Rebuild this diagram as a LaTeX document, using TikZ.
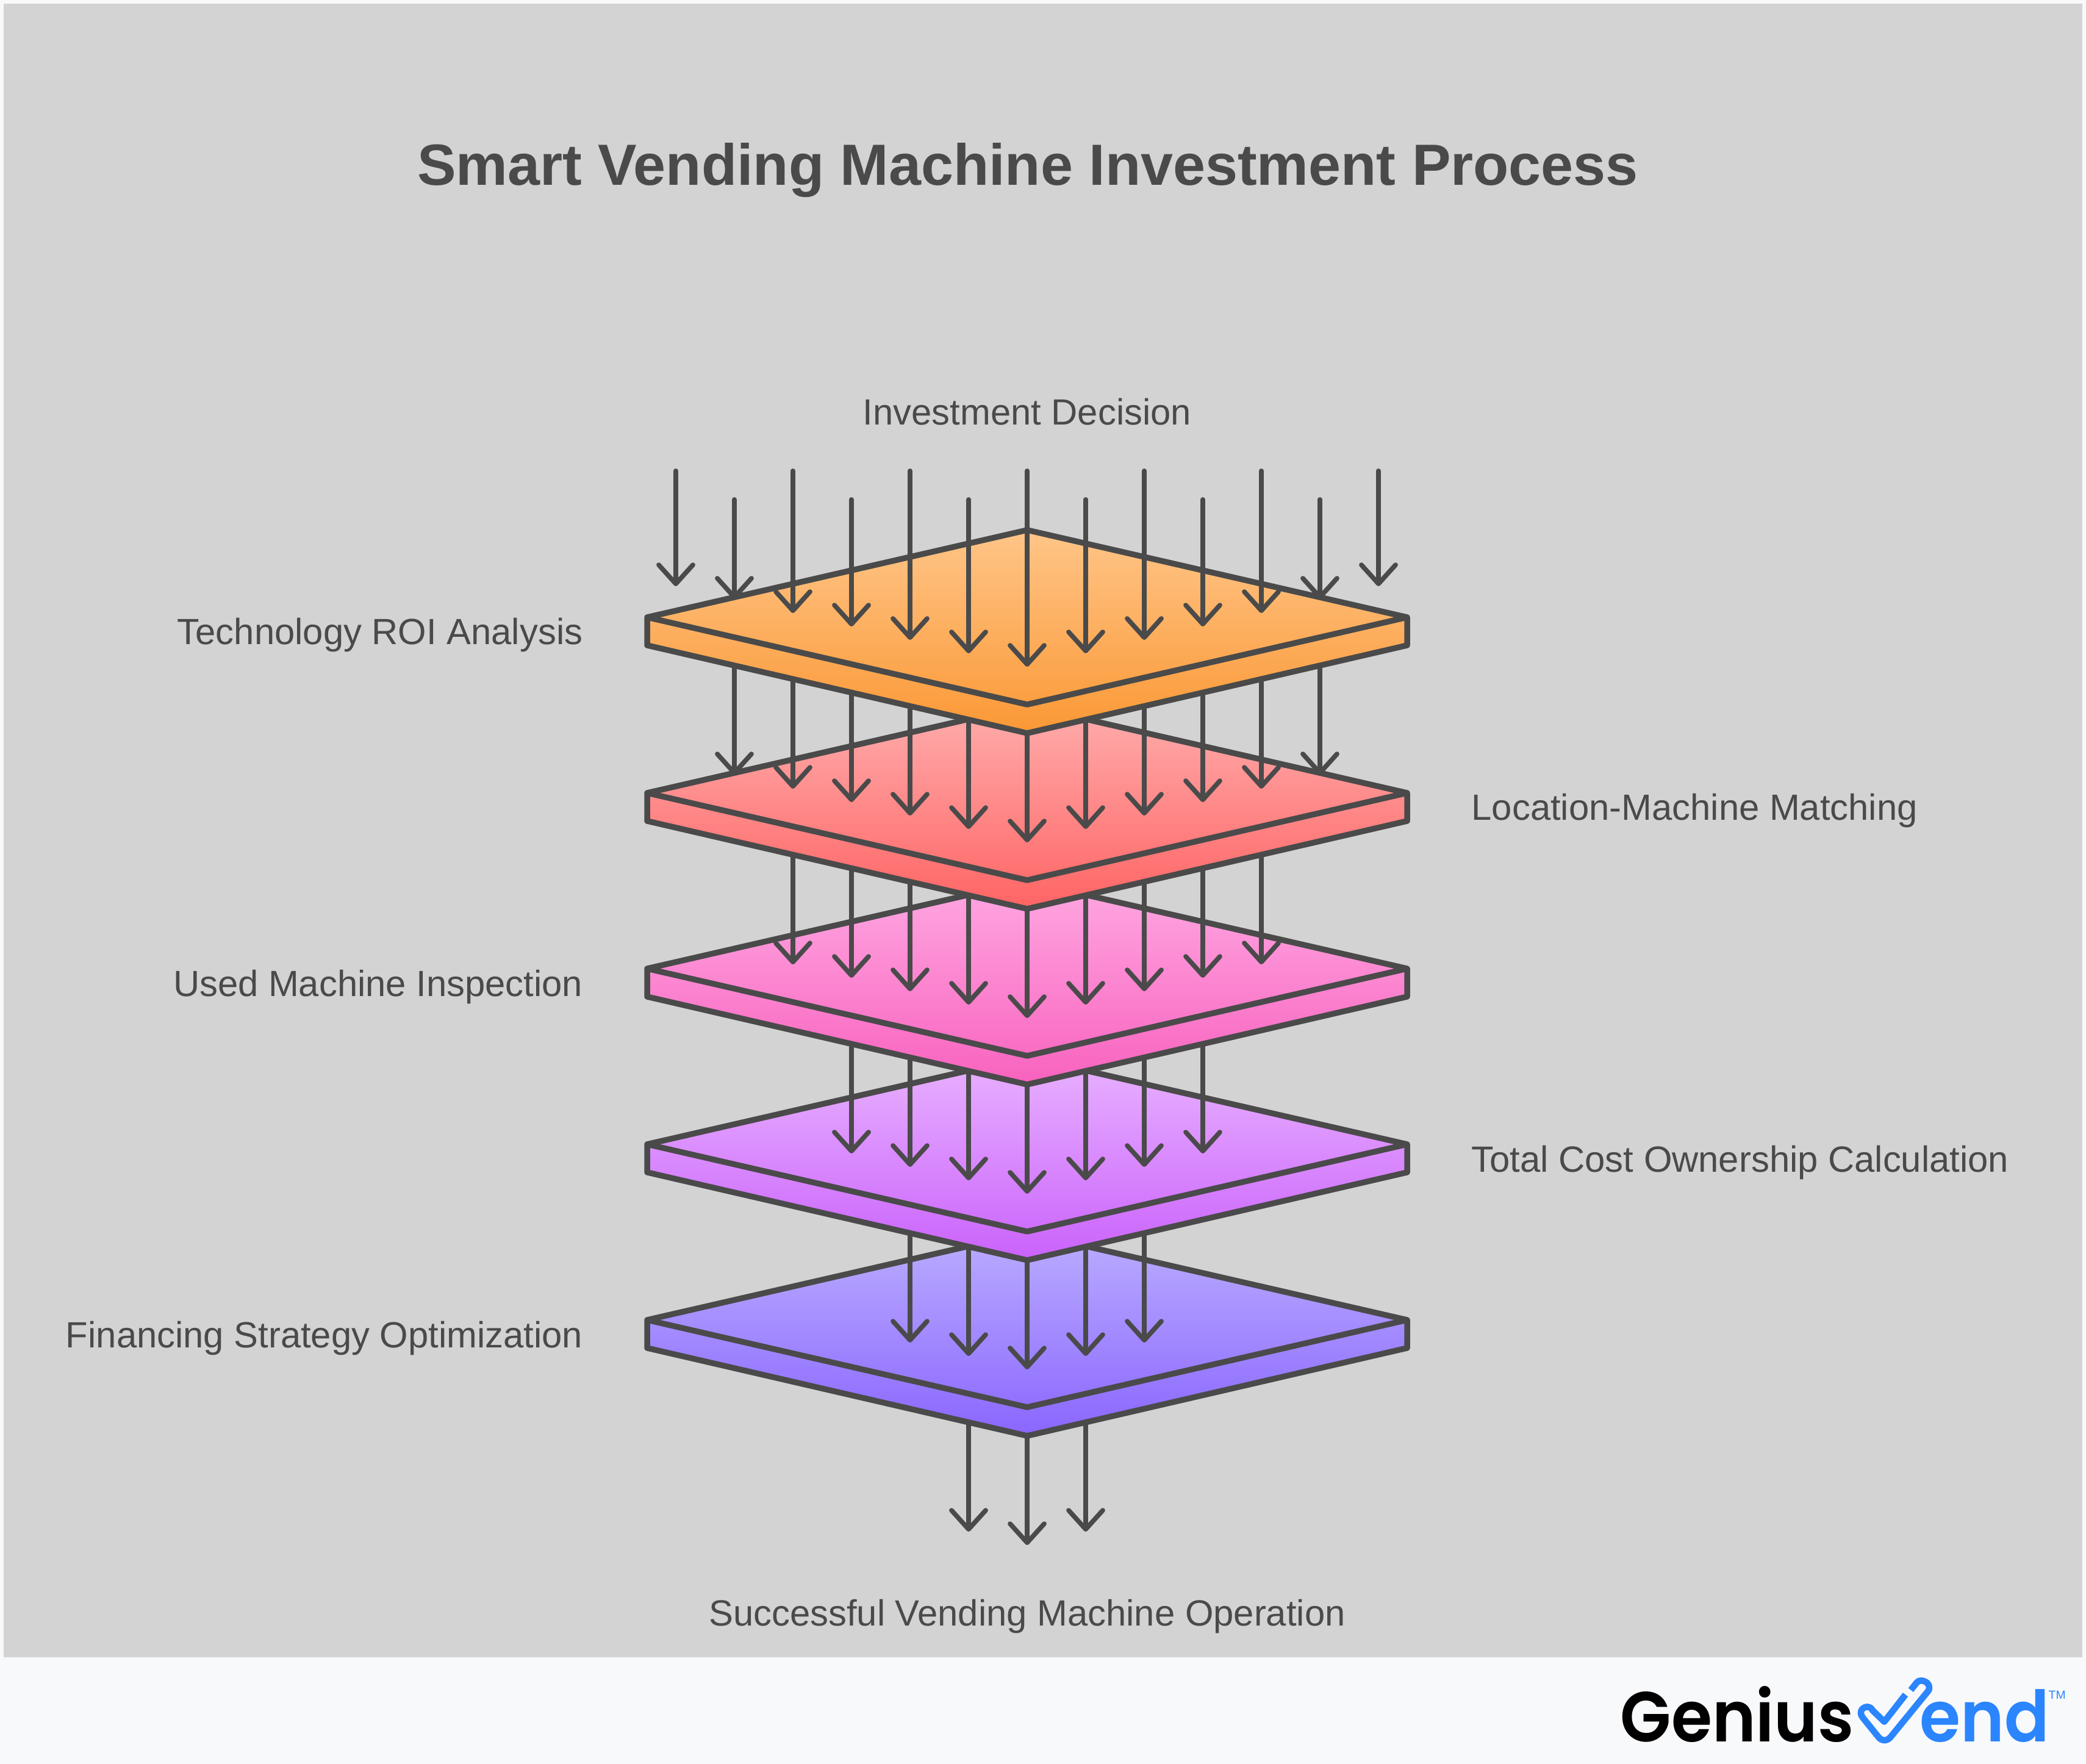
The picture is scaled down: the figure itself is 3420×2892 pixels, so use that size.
\documentclass[tikz,border=0pt]{standalone}
\usepackage{fontspec}
\setmainfont{Liberation Sans}
\newfontfamily\logofont[FakeStretch=0.935]{Poppins SemiBold}
\usetikzlibrary{arrows.meta}
\definecolor{pagebg}{HTML}{F8F9FA}
\definecolor{panelbg}{HTML}{D3D3D3}
\definecolor{ink}{HTML}{4A4A4A}
\definecolor{logoblue}{HTML}{2A85FF}
\definecolor{orangetop}{HTML}{FFC588}
\definecolor{orangebot}{HTML}{FB9835}
\definecolor{redtop}{HTML}{FFADAD}
\definecolor{redbot}{HTML}{FF6464}
\definecolor{pinktop}{HTML}{FFA8E2}
\definecolor{pinkbot}{HTML}{F862BE}
\definecolor{violettop}{HTML}{E8B2FF}
\definecolor{violetbot}{HTML}{CA62FC}
\definecolor{bluetop}{HTML}{BBADFF}
\definecolor{bluebot}{HTML}{8A66FF}
\begin{document}
\begin{tikzpicture}[
        x=0.01cm, y=-0.01cm,
        slab/.style={draw=ink, line width=2.7pt, line join=round},
        arrow/.style={-{Straight Barb[length=3.1mm,width=5.6mm,round]}, ink, line width=2.2pt, line cap=round},
        heading/.style={font=\fontsize{27.1pt}{34pt}\bfseries, text=ink, inner sep=0pt},
        label/.style={font=\fontsize{17pt}{20pt}\selectfont, text=ink, inner sep=0pt}
    ]
        % Page
        \useasboundingbox (0,0) rectangle (3420,2892);
        \fill[pagebg] (0,0) rectangle (3420,2892);
        \fill[panelbg] (6,6) rectangle (3414,2717);

        % Title and end labels
        \node[heading, anchor=base] (title) at (1685,304) {Smart Vending Machine Investment Process};
        \node[label, anchor=base] (decision) at (1684,697) {Investment Decision};
        \node[label, anchor=base] (operation) at (1684,2665) {Successful Vending Machine Operation};

        % Side labels
        \node[label, anchor=base east] (roi) at (956,1057) {Technology ROI Analysis};
        \node[label, anchor=base west] (matching) at (2412,1345) {Location-Machine Matching};
        \node[label, anchor=base east] (inspection) at (956,1633) {Used Machine Inspection};
        \node[label, anchor=base west] (ownership) at (2412,1921) {Total Cost Ownership Calculation};
        \node[label, anchor=base east] (financing) at (956,2209) {Financing Strategy Optimization};

        % Arrows below the last slab
        \foreach \i in {-1,0,1} {
            \pgfmathsetmacro{\tipy}{2533-22*abs(\i)}
            \coordinate (s5\i) at (1684+96*\i,\tipy-230);
            \coordinate (t5\i) at (1684+96*\i,\tipy);
            \draw[arrow] (s5\i) -- (t5\i);
        }

        % Slabs from bottom to top, each with the arrows that land on it
        \foreach \k/\n/\ctop/\cbot in {4/2/bluetop/bluebot, 3/3/violettop/violetbot, 2/4/pinktop/pinkbot, 1/5/redtop/redbot, 0/6/orangetop/orangebot} {
            \pgfmathsetmacro{\cy}{1012+288*\k}
            \coordinate (left\k) at (1061,\cy);
            \coordinate (back\k) at (1684,\cy-143);
            \coordinate (right\k) at (2307,\cy);
            \coordinate (front\k) at (1684,\cy+143);
            \coordinate (lowleft\k) at (1061,\cy+46);
            \coordinate (lowright\k) at (2307,\cy+46);
            \coordinate (low\k) at (1684,\cy+190);
            \draw[slab, top color=\ctop, bottom color=\cbot] (left\k) -- (back\k) -- (right\k) -- (lowright\k) -- (low\k) -- (lowleft\k) -- cycle;
            \draw[slab] (left\k) -- (front\k) -- (right\k);
            \foreach \i in {-\n,...,\n} {
                \pgfmathsetmacro{\tipy}{1093+288*\k-22*abs(\i)}
                \pgfmathsetmacro{\starty}{\k==0 ? (mod(abs(\i),2)==0 ? 772 : 819) : \tipy-230}
                \coordinate (s\k\i) at (1684+96*\i,\starty);
                \coordinate (t\k\i) at (1684+96*\i,\tipy);
                \draw[arrow] (s\k\i) -- (t\k\i);
            }
        }

        % Logo
        \node[font=\logofont\fontsize{33pt}{40pt}\selectfont, text=black, anchor=base west, inner sep=0pt] (genius) at (2656,2855) {Genius};
        \node[font=\logofont\fontsize{33pt}{40pt}\selectfont, text=logoblue, anchor=base west, inner sep=0pt] (vend) at (3147,2855) {end};
        \node[font=\fontsize{5.5pt}{6pt}\selectfont, text=logoblue, anchor=base west, inner sep=0pt] (tm) at (3358,2785) {TM};
        \draw[logoblue, line width=3pt, line join=round] (3132.7,2770.7) -- (3142.7,2758.3)
            .. controls (3148.3,2750.7) and (3168.3,2758.3) .. (3161.7,2771.7) -- (3100,2847.3)
            .. controls (3094,2855) and (3085,2855) .. (3079.3,2847.3) -- (3054,2816)
            .. controls (3046.7,2806.7) and (3053.3,2798.3) .. (3061.7,2798.3)
            .. controls (3065,2798.3) and (3068,2800) .. (3070,2804) -- (3089.3,2822.7) -- (3124,2778.3);
\end{tikzpicture}
\end{document}
